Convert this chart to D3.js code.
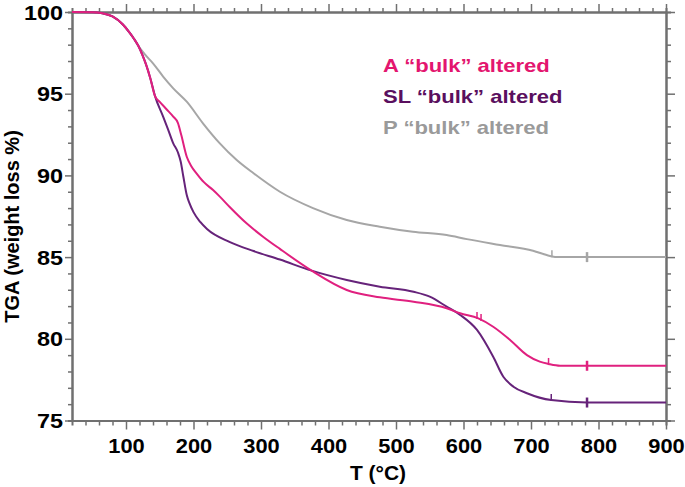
<!DOCTYPE html>
<html><head><meta charset="utf-8">
<script src="https://cdn.jsdelivr.net/npm/d3@7/dist/d3.min.js"></script>
<style>body{margin:0;background:#fff}svg{display:block}</style>
</head><body>
<svg id="c" width="685" height="487"></svg>
<script>
// ---- data ----
const xTicks = [100, 200, 300, 400, 500, 600, 700, 800, 900];
const yTicks = [75, 80, 85, 90, 95, 100];
const seriesNames = ["A \u201cbulk\u201d altered", "SL \u201cbulk\u201d altered", "P \u201cbulk\u201d altered"];

const aTemp   = [20, 50, 65, 80, 95, 105, 112, 118, 125, 130, 136, 143, 150, 160, 170, 177, 182, 190, 197, 205, 215, 229, 239, 254, 279, 303, 328, 375, 427, 476, 526, 575, 595, 622, 644, 669, 694, 713, 726, 743, 783, 900];
const aWeight = [100, 99.99, 99.93, 99.73, 99.25, 98.75, 98.35, 97.95, 97.3, 96.75, 95.95, 94.85, 94.5, 94.05, 93.6, 93.2, 92.45, 91.14, 90.55, 90.1, 89.6, 89.1, 88.7, 88.05, 87.05, 86.25, 85.5, 84.17, 82.99, 82.54, 82.27, 81.87, 81.56, 81.25, 80.74, 79.93, 79.0, 78.6, 78.46, 78.35, 78.35, 78.35];

const slTemp   = [20, 50, 65, 80, 95, 105, 112, 118, 125, 130, 136, 143, 155, 162, 170, 177, 181, 185, 190, 194, 200, 210, 220, 254, 289, 328, 375, 427, 476, 526, 550, 575, 595, 620, 644, 659, 674, 694, 730, 783, 900];
const slWeight = [100, 99.99, 99.93, 99.73, 99.25, 98.75, 98.35, 97.95, 97.3, 96.75, 95.95, 94.85, 93.6, 92.85, 91.96, 91.4, 90.85, 89.92, 88.8, 88.3, 87.75, 87.15, 86.72, 85.92, 85.37, 84.85, 84.17, 83.6, 83.19, 82.88, 82.58, 81.97, 81.46, 80.54, 78.9, 77.68, 77.07, 76.67, 76.25, 76.1, 76.1];

const pTemp   = [20, 50, 65, 80, 95, 105, 112, 118, 128, 140, 155, 170, 190, 214, 239, 264, 289, 328, 377, 427, 476, 525, 575, 605, 654, 703, 728, 740, 783, 900];
const pWeight = [100, 99.99, 99.93, 99.73, 99.25, 98.75, 98.35, 97.95, 97.4, 96.86, 96.05, 95.33, 94.51, 93.19, 91.96, 90.94, 90.13, 89.0, 88.0, 87.27, 86.86, 86.55, 86.35, 86.1, 85.74, 85.39, 85.07, 85.0, 85.0, 85.0];

const aMarks  = [620, 626, 726, 783];
const slMarks = [730, 783];
const pMarks  = [731, 783];

// ---- chart ----
const W = 685, H = 487;
const m = {l: 72, r: 19, t: 12, b: 66.5};
const svg = d3.select("#c");
const x = d3.scaleLinear().domain([20, 900]).range([m.l, W - m.r]);
const y = d3.scaleLinear().domain([75, 100]).range([H - m.b, m.t]);
const axisColor = "#707070";
const font = "'Liberation Sans', Arial, Helvetica, sans-serif";

const xMinor = d3.range(40, 901, 20).filter(v => !xTicks.includes(v));
const yMinor = d3.range(76, 100, 1).filter(v => !yTicks.includes(v));

function styleAxis(g) {
  g.select(".domain").attr("stroke", axisColor).attr("stroke-width", 2);
  g.selectAll(".tick line").attr("stroke", axisColor).attr("stroke-width", 1.5);
}
function stretch(sel, f) {
  sel.each(function () {
    const L = this.getComputedTextLength();
    this.setAttribute("textLength", L * f);
    this.setAttribute("lengthAdjust", "spacingAndGlyphs");
  });
}

// bottom
svg.append("g").attr("transform", `translate(0,${y(75)})`)
  .call(d3.axisBottom(x).tickValues(xMinor).tickSize(5).tickFormat("")).call(styleAxis);
const gb = svg.append("g").attr("transform", `translate(0,${y(75)})`)
  .call(d3.axisBottom(x).tickValues(xTicks).tickSizeInner(9).tickSizeOuter(0).tickFormat(d3.format("d"))).call(styleAxis);
gb.selectAll("text").attr("y", 32.5).attr("dy", 0).attr("fill", "#000")
  .style("font", `bold 19.5px ${font}`);
stretch(gb.selectAll("text"), 1.12);

// top
svg.append("g").attr("transform", `translate(0,${y(100)})`)
  .call(d3.axisTop(x).tickValues(xMinor).tickSize(4).tickFormat("")).call(styleAxis);
svg.append("g").attr("transform", `translate(0,${y(100)})`)
  .call(d3.axisTop(x).tickValues(xTicks).tickSizeInner(8).tickSizeOuter(0).tickFormat("")).call(styleAxis);

// left
svg.append("g").attr("transform", `translate(${x(20)},0)`)
  .call(d3.axisLeft(y).tickValues(yMinor).tickSize(4).tickFormat("")).call(styleAxis);
const gl = svg.append("g").attr("transform", `translate(${x(20)},0)`)
  .call(d3.axisLeft(y).tickValues(yTicks).tickSizeInner(7).tickSizeOuter(0).tickFormat(d3.format("d"))).call(styleAxis);
gl.selectAll("text").attr("x", -9).attr("dy", "0.36em").attr("fill", "#000")
  .style("font", `bold 19.5px ${font}`);
stretch(gl.selectAll("text"), 1.2);

// right
svg.append("g").attr("transform", `translate(${x(900)},0)`)
  .call(d3.axisRight(y).tickValues(yMinor).tickSize(5).tickFormat("")).call(styleAxis);
svg.append("g").attr("transform", `translate(${x(900)},0)`)
  .call(d3.axisRight(y).tickValues(yTicks).tickSizeInner(9).tickSizeOuter(0).tickFormat("")).call(styleAxis);

// lines
const series = [
  {t: pTemp, v: pWeight, c: "#a6a6a6", marks: pMarks},
  {t: slTemp, v: slWeight, c: "#66237a", marks: slMarks},
  {t: aTemp, v: aWeight, c: "#e0207f", marks: aMarks}
];
const line = d3.line().curve(d3.curveMonotoneX);
series.forEach(s => {
  const pts = s.t.map((t, i) => [x(t), y(s.v[i])]);
  svg.append("path").attr("d", line(pts)).attr("fill", "none")
    .attr("stroke", s.c).attr("stroke-width", 2).attr("stroke-linejoin", "round");
  const interp = d3.scaleLinear().domain(s.t).range(s.v);
  s.marks.forEach(t => {
    const big = t === 783;
    const cy = y(interp(t));
    svg.append("line").attr("x1", x(t)).attr("x2", x(t))
      .attr("y1", cy - (big ? 5 : 6)).attr("y2", cy + (big ? 5 : 1))
      .attr("stroke", s.c).attr("stroke-width", big ? 2.5 : 1.5);
  });
});

// legend
const legColors = ["#e3166f", "#5a0f5e", "#9a9a9a"];
const leg = svg.append("g");
seriesNames.forEach((n, i) => {
  const t = leg.append("text").attr("x", 383).attr("y", 72 + i * 31)
    .attr("fill", legColors[i]).style("font", `bold 18.5px ${font}`).text(n);
  stretch(t, 1.19);
});

// axis titles
svg.append("text").attr("x", 378).attr("y", 480).attr("text-anchor", "middle")
  .style("font", `bold 21px ${font}`).attr("fill", "#000").text("T (\u00b0C)");
svg.append("text").attr("transform", "translate(18.5,226.5) rotate(-90)").attr("text-anchor", "middle")
  .style("font", `bold 20px ${font}`).attr("fill", "#000").text("TGA (weight loss %)");
</script>
</body></html>
